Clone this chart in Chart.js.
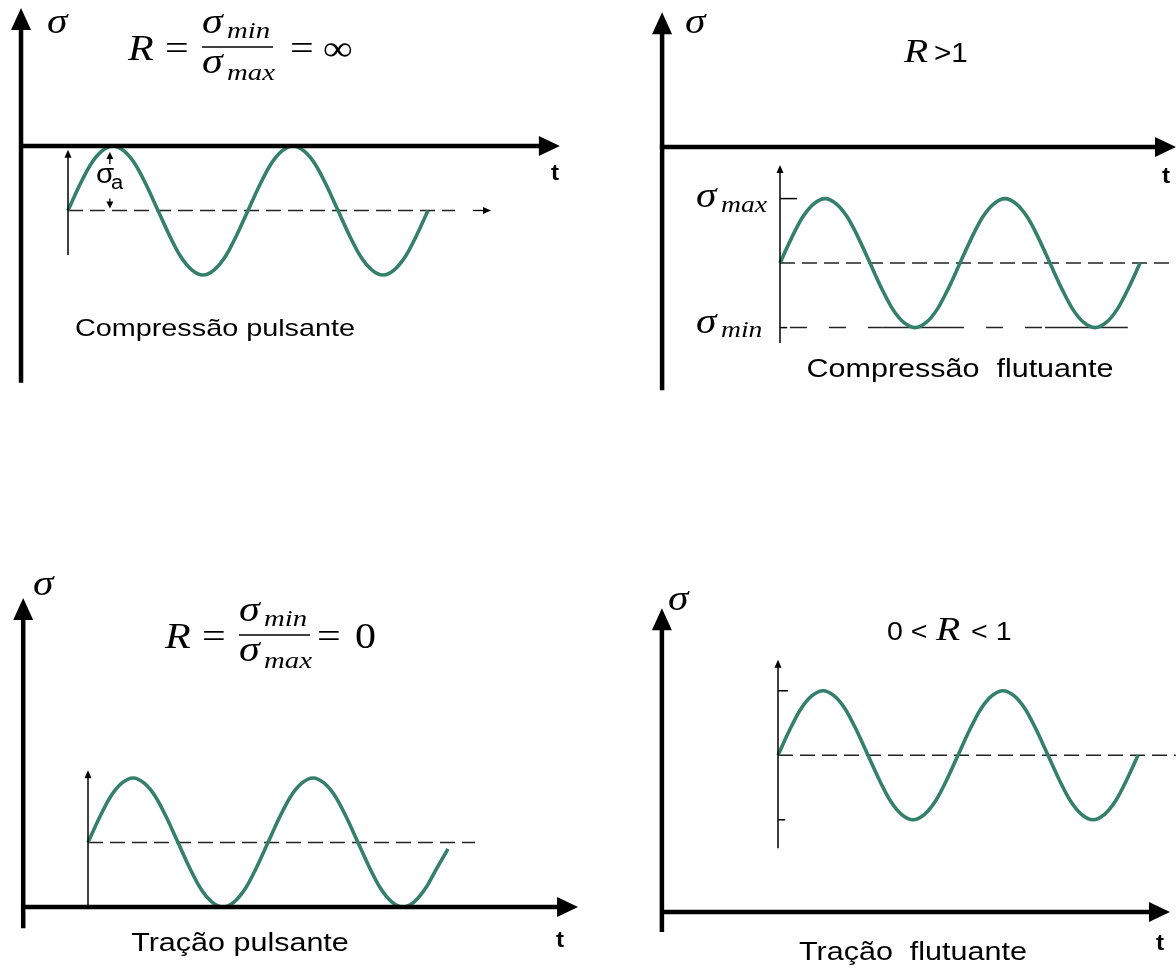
<!DOCTYPE html>
<html>
<head>
<meta charset="utf-8">
<script src="https://cdn.jsdelivr.net/npm/chart.js@4/dist/chart.umd.min.js"></script>
<style>
  html, body { margin: 0; background: #fff; }
  #wrap { position: relative; width: 1176px; height: 969px; }
</style>
</head>
<body>
<div id="wrap"><canvas id="c"></canvas></div>
<script>
// Time axis in quarter periods (one full cycle = 4 units), sampled every sixteenth of a period
const tSteps = [0, 0.25, 0.5, 0.75, 1, 1.25, 1.5, 1.75, 2, 2.25, 2.5, 2.75, 3, 3.25, 3.5, 3.75,
                4, 4.25, 4.5, 4.75, 5, 5.25, 5.5, 5.75, 6, 6.25, 6.5, 6.75, 7, 7.25, 7.5, 7.75, 8];

// Stress σ for each loading case, in units of the stress amplitude σa
const compressaoPulsante  = [-1, -0.62, -0.29, -0.08, 0, -0.08, -0.29, -0.62, -1, -1.38, -1.71, -1.92, -2, -1.92, -1.71, -1.38,
                             -1, -0.62, -0.29, -0.08, 0, -0.08, -0.29, -0.62, -1, -1.38, -1.71, -1.92, -2, -1.92, -1.71, -1.38, -1];
const compressaoFlutuante = [-1.8, -1.42, -1.09, -0.88, -0.8, -0.88, -1.09, -1.42, -1.8, -2.18, -2.51, -2.72, -2.8, -2.72, -2.51, -2.18,
                             -1.8, -1.42, -1.09, -0.88, -0.8, -0.88, -1.09, -1.42, -1.8, -2.18, -2.51, -2.72, -2.8, -2.72, -2.51, -2.18, -1.8];
const tracaoPulsante      = [1, 1.38, 1.71, 1.92, 2, 1.92, 1.71, 1.38, 1, 0.62, 0.29, 0.08, 0, 0.08, 0.29, 0.62,
                             1, 1.38, 1.71, 1.92, 2, 1.92, 1.71, 1.38, 1, 0.62, 0.29, 0.08, 0, 0.08, 0.29, 0.6, 0.9];
const tracaoFlutuante     = [2.43, 2.81, 3.14, 3.35, 3.43, 3.35, 3.14, 2.81, 2.43, 2.05, 1.72, 1.51, 1.43, 1.51, 1.72, 2.05,
                             2.43, 2.81, 3.14, 3.35, 3.43, 3.35, 3.14, 2.81, 2.43, 2.05, 1.72, 1.51, 1.43, 1.51, 1.72, 2.05, 2.43];

// Mean stress of each case and the time span of its dashed reference line
const meanStress = [-1, -1.8, 1, 2.43];
const meanLineEnd = [8.6, 8.67, 8.6, 8.84];

// σmin guide of the floating compression case: alternating dashed / solid pieces
const minGuideT = [0.22, 2.27, 3.71, 5.89, 7.73];

// Captions
const captions = ['Compressão pulsante', 'Compressão  flutuante', 'Tração pulsante', 'Tração  flutuante'];

const waves = [compressaoPulsante, compressaoFlutuante, tracaoPulsante, tracaoFlutuante];

// ---- layout -------------------------------------------------------------
const W = 1176, H = 969;
const UX = 45, UY = 64.5;                 // px per quarter period, px per σa
const origins = [[68, 146], [780, 147], [88, 907], [778, 912]];  // where t = 0, σ = 0 sits
const WAVE = '#34806c';

// main axes of each panel, in that panel's (t, σ) units
const mainAxes = [
  { tAxis: -1.044, sFrom: -3.67, sTo: 2.14, tFrom: -1.09, tTo: 10.93 },
  { tAxis: -2.62,  sFrom: -3.77, sTo: 2.09, tFrom: -2.67, tTo: 8.8 },
  { tAxis: -1.44,  sFrom: -0.33, sTo: 4.79, tFrom: -1.49, tTo: 10.89 },
  { tAxis: -2.58,  sFrom: -0.31, sTo: 4.71, tFrom: -2.62, tTo: 8.71 }
];
// thin reference σ axis at t = 0
const refAxes = [
  { sFrom: -1.69, sTo: -0.06 },
  { sFrom: -3.04, sTo: -0.28 },
  { sFrom: 0.03,  sTo: 2.12 },
  { sFrom: 0.99,  sTo: 3.91 }
];

const scales = {};
origins.forEach(([ox, oy], i) => {
  scales['x' + i] = { type: 'linear', display: false, min: -ox / UX, max: (W - ox) / UX };
  scales['y' + i] = { type: 'linear', display: false, min: -(H - oy) / UY, max: oy / UY };
});

const datasets = [];
waves.forEach((vals, i) => {
  datasets.push({
    data: tSteps.map((t, k) => ({ x: t, y: vals[k] })),
    xAxisID: 'x' + i, yAxisID: 'y' + i,
    showLine: true, borderColor: WAVE, borderWidth: 3.6,
    pointRadius: 0, cubicInterpolationMode: 'monotone', clip: false
  });
  datasets.push({
    data: [{ x: 0, y: meanStress[i] }, { x: meanLineEnd[i], y: meanStress[i] }],
    xAxisID: 'x' + i, yAxisID: 'y' + i,
    showLine: true, borderColor: '#222', borderWidth: 1.5, borderDash: [15, 7],
    pointRadius: 0, clip: false
  });
});
// σmin guide line (floating compression)
datasets.push({
  data: minGuideT.map(t => ({ x: t, y: Math.min(...compressaoFlutuante) })),
  xAxisID: 'x1', yAxisID: 'y1',
  showLine: true, borderColor: '#222', borderWidth: 1.5, pointRadius: 0, clip: false,
  segment: { borderDash: c => (c.p0DataIndex % 2 === 0 ? [17, 22] : []) }
});

// ---- drawing helpers ----------------------------------------------------
function txt(ctx, s, x, y, font, align, sx) {
  ctx.save();
  ctx.translate(x, y);
  ctx.scale(sx == null ? 1.2 : sx, 1);
  ctx.font = font;
  ctx.textAlign = align || 'left';
  ctx.textBaseline = 'alphabetic';
  ctx.fillStyle = '#000';
  ctx.fillText(s, 0, 0);
  ctx.restore();
}
function head(ctx, x, y, dir, len, half) {
  ctx.beginPath();
  if (dir === 'up') {
    ctx.moveTo(x, y); ctx.lineTo(x - half, y + len); ctx.lineTo(x + half, y + len);
  } else if (dir === 'down') {
    ctx.moveTo(x, y); ctx.lineTo(x - half, y - len); ctx.lineTo(x + half, y - len);
  } else {
    ctx.moveTo(x, y); ctx.lineTo(x - len, y - half); ctx.lineTo(x - len, y + half);
  }
  ctx.closePath();
  ctx.fill();
}
function seg(ctx, a, b, w) {
  ctx.lineWidth = w;
  ctx.beginPath(); ctx.moveTo(a[0], a[1]); ctx.lineTo(b[0], b[1]); ctx.stroke();
}

const SERIF_I = (px) => `italic ${px}px "Liberation Serif"`;
const SERIF = (px) => `${px}px "Liberation Serif"`;
const SANS = (px) => `${px}px "Liberation Sans"`;

function ratio(ctx, x0, barY, eqX, rhsX, rhs) {
  txt(ctx, 'R', x0, barY + 13, SERIF_I(35));
  txt(ctx, '=', x0 + 37, barY + 13, SERIF(35));
  ctx.lineWidth = 1.5;
  ctx.beginPath(); ctx.moveTo(x0 + 74, barY); ctx.lineTo(x0 + 145, barY); ctx.stroke();
  txt(ctx, 'σ', x0 + 74, barY - 14, SERIF_I(35));
  txt(ctx, 'min', x0 + 99, barY - 9, SERIF_I(24));
  txt(ctx, 'σ', x0 + 74, barY + 26, SERIF_I(35));
  txt(ctx, 'max', x0 + 99, barY + 33, SERIF_I(24));
  txt(ctx, '=', eqX, barY + 13, SERIF(35));
  txt(ctx, rhs, rhsX, barY + 13, SERIF(35));
}

const deco = {
  id: 'deco',
  afterDatasetsDraw(chart) {
    const ctx = chart.ctx;
    const P = (i, t, s) => [chart.scales['x' + i].getPixelForValue(t), chart.scales['y' + i].getPixelForValue(s)];
    ctx.save();
    ctx.strokeStyle = '#000';
    ctx.fillStyle = '#000';
    ctx.lineCap = 'butt';

    for (let i = 0; i < 4; i++) {
      const m = mainAxes[i];
      // σ axis
      const top = P(i, m.tAxis, m.sTo);
      seg(ctx, P(i, m.tAxis, m.sFrom), [top[0], top[1] + 18], 4.5);
      head(ctx, top[0], top[1], 'up', 22, 10);
      // time axis
      const tip = P(i, m.tTo, 0);
      seg(ctx, P(i, m.tFrom, 0), [tip[0] - 18, tip[1]], 4.5);
      head(ctx, tip[0], tip[1], 'right', 21, 10);
      // thin reference σ axis at t = 0
      const r = refAxes[i];
      const rt = P(i, 0, r.sTo);
      seg(ctx, P(i, 0, r.sFrom), [rt[0], rt[1] + 5], 1.5);
      head(ctx, rt[0], rt[1], 'up', 8, 3.5);
    }

    // amplitude marks of the pulsating compression case
    const aUp = P(0, 0.93, Math.max(...compressaoPulsante));
    const aDn = P(0, 0.93, meanStress[0]);
    head(ctx, aUp[0], aUp[1] + 6, 'up', 7, 3.5);
    seg(ctx, [aUp[0], aUp[1] + 12], [aUp[0], aUp[1] + 18], 1.3);
    head(ctx, aDn[0], aDn[1] - 2, 'down', 7, 3.5);
    seg(ctx, [aDn[0], aDn[1] - 8], [aDn[0], aDn[1] - 12], 1.3);
    // continuation arrow of the mean line
    const ma = P(0, 9.0, meanStress[0]), mb = P(0, 9.4, meanStress[0]);
    seg(ctx, ma, [mb[0] - 4, mb[1]], 1.3);
    head(ctx, mb[0], mb[1], 'right', 8, 3.5);

    // ticks at σmax / σmin
    const fMax = Math.max(...compressaoFlutuante), fMin = Math.min(...compressaoFlutuante);
    seg(ctx, P(1, 0, fMax), P(1, 0.38, fMax), 1.5);
    seg(ctx, P(1, 0, fMin), P(1, 0.16, fMin), 1.5);
    const tMax = Math.max(...tracaoFlutuante), tMin = Math.min(...tracaoFlutuante);
    seg(ctx, P(3, 0, tMax), P(3, 0.22, tMax), 1.5);
    seg(ctx, P(3, 0, tMin), P(3, 0.16, tMin), 1.5);

    // σ axis names
    txt(ctx, 'σ', 47, 33, SERIF_I(36), 'left', 1.15);
    txt(ctx, 'σ', 685, 33, SERIF_I(36), 'left', 1.15);
    txt(ctx, 'σ', 33, 595, SERIF_I(36), 'left', 1.15);
    txt(ctx, 'σ', 668, 610, SERIF_I(36), 'left', 1.15);
    // time axis names
    txt(ctx, 't', 555, 180, 'bold 22px "Liberation Sans"', 'center', 1.1);
    txt(ctx, 't', 1166, 183, 'bold 22px "Liberation Sans"', 'center', 1.1);
    txt(ctx, 't', 560, 947, 'bold 22px "Liberation Sans"', 'center', 1.1);
    txt(ctx, 't', 1160, 950, 'bold 22px "Liberation Sans"', 'center', 1.1);

    // stress ratio headers
    ratio(ctx, 128, 47, 290, 323, '∞');
    ratio(ctx, 165, 635, 317, 355, '0');
    txt(ctx, 'R', 904, 62, SERIF_I(33));
    txt(ctx, '>1', 934, 62, SANS(27), 'left', 1.1);
    txt(ctx, '0 <', 887, 640, SANS(26), 'left', 1.1);
    txt(ctx, 'R', 936, 640, SERIF_I(33));
    txt(ctx, '< 1', 971, 640, SANS(26), 'left', 1.1);

    // σmax / σmin labels
    txt(ctx, 'σ', 696, 207, SERIF_I(36), 'left', 1.15);
    txt(ctx, 'max', 721, 212, SERIF_I(24), 'left', 1.15);
    txt(ctx, 'σ', 696, 333, SERIF_I(36), 'left', 1.15);
    txt(ctx, 'min', 721, 337, SERIF_I(24), 'left', 1.15);

    // σa label
    txt(ctx, 'σ', 96, 183, SANS(28), 'left', 1.05);
    txt(ctx, 'a', 111, 189, SANS(20), 'left', 1.1);

    // captions
    txt(ctx, captions[0], 215, 336, SANS(24), 'center', 1.2);
    txt(ctx, captions[1], 960, 377, SANS(25), 'center', 1.22);
    txt(ctx, captions[2], 240, 951, SANS(25), 'center', 1.22);
    txt(ctx, captions[3], 913, 960, SANS(25), 'center', 1.22);

    ctx.restore();
  }
};

new Chart(document.getElementById('c'), {
  type: 'scatter',
  data: { datasets },
  options: {
    responsive: true,
    maintainAspectRatio: false,
    animation: false,
    events: [],
    layout: { padding: 0 },
    plugins: { legend: { display: false }, tooltip: { enabled: false } },
    scales
  },
  plugins: [deco]
});
</script>
</body>
</html>
